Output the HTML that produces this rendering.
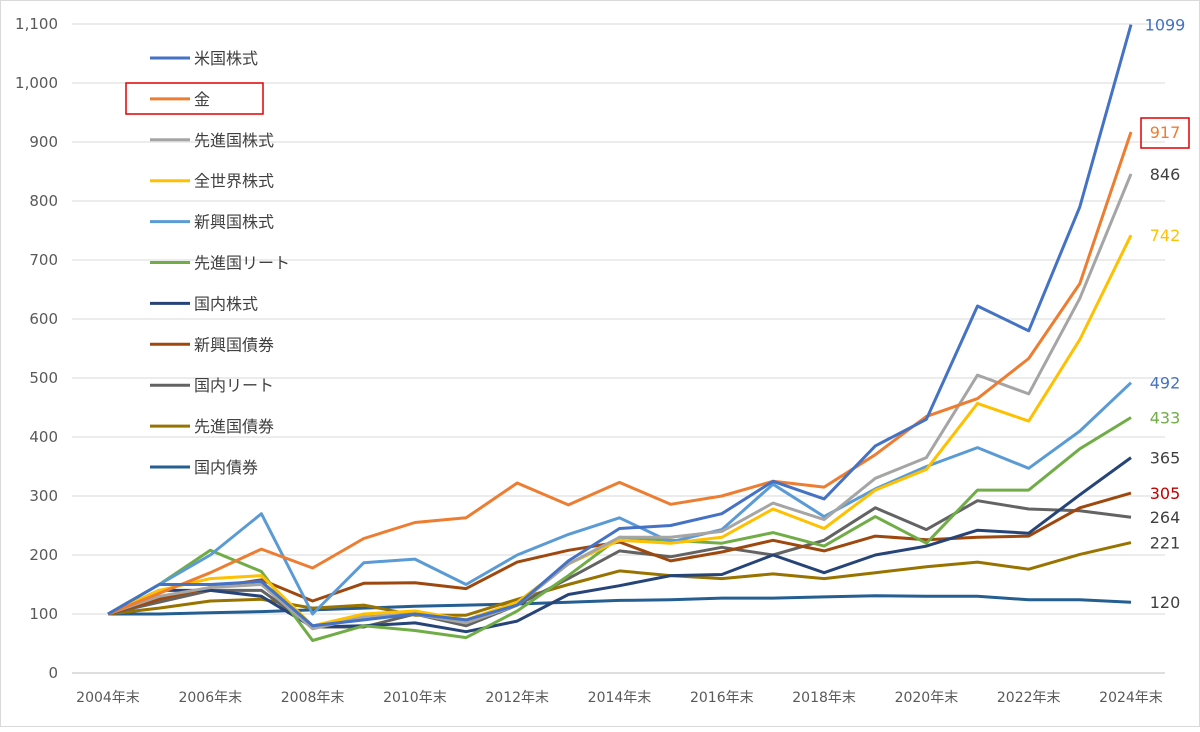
<!DOCTYPE html>
<html><head><meta charset="utf-8"><style>
body{margin:0;background:#fff}
svg text{font-family:"DejaVu Sans","Noto Sans CJK JP",sans-serif}
</style></head><body>
<svg id="chart" width="1200" height="727" xmlns="http://www.w3.org/2000/svg">
<rect x="0.5" y="0.5" width="1199" height="726" fill="#fff" stroke="#d9d9d9"/>
<g id="grid"></g><g id="axes"></g><g id="series"></g><g id="legend"></g><g id="ends"></g>
</svg>
<script>
const years=["2004年末","2005","2006年末","2007","2008年末","2009","2010年末","2011","2012年末","2013","2014年末","2015","2016年末","2017","2018年末","2019","2020年末","2021","2022年末","2023","2024年末"];
const yTicks=[0,100,200,300,400,500,600,700,800,900,1000,1100];
const names=["米国株式","金","先進国株式","全世界株式","新興国株式","先進国リート","国内株式","新興国債券","国内リート","先進国債券","国内債券"];
const colors=["#4472C4","#ED7D31","#A5A5A5","#FFC000","#5B9BD5","#70AD47","#264478","#9E480E","#636363","#997300","#255E91"];
const labelColors=["#4472C4","#ED7D31","#404040","#FFC000","#4472C4","#70AD47","#404040","#C00000","#404040","#404040","#404040"];
const usStock=[100,150,150,155,80,90,100,90,115,190,245,250,270,325,295,385,430,622,580,790,1099];
const gold=[100,135,170,210,178,228,255,263,322,285,323,286,300,325,315,370,435,465,533,660,917];
const devStock=[100,130,145,150,75,95,100,85,115,185,230,230,240,288,260,330,365,505,473,635,846];
const worldStock=[100,140,160,165,80,100,105,90,120,185,225,220,230,278,245,310,345,457,427,565,742];
const emStock=[100,150,200,270,100,187,193,150,200,235,263,222,243,320,265,312,350,382,347,410,492];
const devReit=[100,150,208,172,55,80,72,60,105,165,230,225,220,238,215,265,220,310,310,380,433];
const jpStock=[100,140,140,130,78,80,85,70,88,133,148,165,167,200,170,200,215,242,237,302,365];
const emBond=[100,125,145,158,122,152,153,143,188,208,222,190,205,225,207,232,226,230,232,280,305];
const jpReit=[100,120,140,140,78,78,100,80,115,160,207,197,213,200,225,280,243,292,278,275,264];
const devBond=[100,110,122,125,110,115,98,98,125,150,173,165,160,168,160,170,180,188,176,201,221];
const jpBond=[100,100,102,104,107,110,113,115,117,120,123,124,127,127,129,131,130,130,124,124,120];
const allSeries=[usStock,gold,devStock,worldStock,emStock,devReit,jpStock,emBond,jpReit,devBond,jpBond];
const NS="http://www.w3.org/2000/svg";
const x0=108,x1=1131,yBase=673,yTop=24,yMax=1100;
const X=i=>x0+(x1-x0)*i/(years.length-1);
const Y=v=>yBase-(yBase-yTop)*v/yMax;
function mk(tag,attrs,parent,text){const e=document.createElementNS(NS,tag);for(const k in attrs)e.setAttribute(k,attrs[k]);if(text!==undefined)e.textContent=text;document.getElementById(parent).appendChild(e);return e;}
yTicks.forEach(t=>{
 const l=mk("line",{x1:72,x2:1165,y1:Y(t),y2:Y(t),stroke:t===0?"#bfbfbf":"#d9d9d9","stroke-width":1},"grid");
 
 
 const tx=mk("text",{x:58,y:Y(t)+5,"text-anchor":"end","font-size":15,fill:"#595959"},"axes",t.toLocaleString("en-US"));
 
 
});
years.forEach((yr,i)=>{
 if(i%2===0){
  const tx=mk("text",{x:X(i),y:702,"text-anchor":"middle","font-size":14,fill:"#595959"},"axes",yr);
  
  
 }
});
for(let s=allSeries.length-1;s>=0;s--){
 const d=allSeries[s].map((v,i)=>(i?"L":"M")+X(i).toFixed(1)+","+Y(v).toFixed(1)).join("");
 const p=mk("path",{d:d,fill:"none",stroke:colors[s],"stroke-width":3,"stroke-linejoin":"round"},"series");
 
 
}
names.forEach((n,s)=>{
 const yy=58+s*40.9;
 const l=mk("line",{x1:150,x2:190,y1:yy,y2:yy,stroke:colors[s],"stroke-width":3},"legend");
 
 
 const t=mk("text",{x:194,y:yy+6,"font-size":16,fill:"#404040"},"legend",n);
 
 
 const last=allSeries[s][allSeries[s].length-1];
 const e=mk("text",{x:1165,y:Y(last)+6,"text-anchor":"middle","font-size":16,fill:labelColors[s]},"ends",String(last));
 
 
});
const b1=mk("rect",{x:126,y:83,width:137,height:31,fill:"none",stroke:"#e00000","stroke-width":1.5},"legend");


const b2=mk("rect",{x:1141,y:118,width:48,height:30,fill:"none",stroke:"#e00000","stroke-width":1.5},"ends");


</script>
</body></html>
